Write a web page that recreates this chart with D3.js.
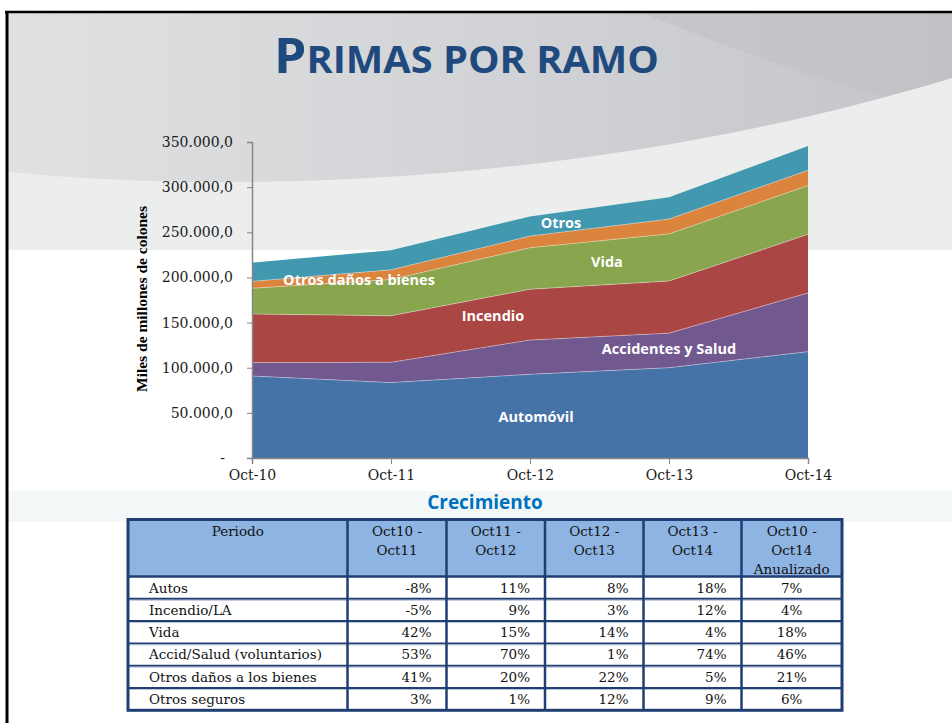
<html>
<head>
<meta charset="utf-8">
<style>
body { margin: 0; background: #ffffff; }
svg { display: block; }
</style>
</head>
<body>
<div id="plot"></div>
<script src="https://d3js.org/d3.v7.min.js"></script>
<script type="text/javascript">
// chart data (miles de millones de colones)
var periods = ["Oct-10", "Oct-11", "Oct-12", "Oct-13", "Oct-14"];
var automovil = [90800, 83500, 92700, 100000, 117800];
var accidentes = [14900, 22500, 37900, 38300, 65000];
var incendio = [53800, 51500, 56300, 57700, 64900];
var vida = [28500, 40200, 46000, 52200, 54000];
var otrosDanos = [7700, 10700, 12900, 16400, 17000];
var otros = [20700, 21700, 21800, 24200, 27000];
var seriesNames = ["Automóvil", "Accidentes y Salud", "Incendio", "Vida", "Otros daños a bienes", "Otros"];
var yTicks = [0, 50000, 100000, 150000, 200000, 250000, 300000, 350000];

// growth table
var tableHeaders = [["Periodo"], ["Oct10 -", "Oct11"], ["Oct11 -", "Oct12"], ["Oct12 -", "Oct13"], ["Oct13 -", "Oct14"], ["Oct10 -", "Oct14", "Anualizado"]];
var rowLabels = ["Autos", "Incendio/LA", "Vida", "Accid/Salud (voluntarios)", "Otros daños a los bienes", "Otros seguros"];
var growth = [
  [-8, 11, 8, 18, 7],
  [-5, 9, 3, 12, 4],
  [42, 15, 14, 4, 18],
  [53, 70, 1, 74, 46],
  [41, 20, 22, 5, 21],
  [3, 1, 12, 9, 6]
];

var W = 952, H = 723;
var svg = d3.select("#plot").append("svg").attr("width", W).attr("height", H);
var defs = svg.append("defs");

// background
var g1 = defs.append("linearGradient").attr("id", "topgrad").attr("x1", 0).attr("x2", 1).attr("y1", 0).attr("y2", 0);
g1.append("stop").attr("offset", 0).attr("stop-color", "#dfe1e2");
g1.append("stop").attr("offset", 0.55).attr("stop-color", "#d1d2d5");
g1.append("stop").attr("offset", 1).attr("stop-color", "#c4c5c9");
svg.append("rect").attr("x", 6).attr("y", 12).attr("width", W).attr("height", 238).attr("fill", "url(#topgrad)");
svg.append("path").attr("d", "M640,12 C760,60 860,95 952,112 L952,12 Z").attr("fill", "#bdbfc3").attr("opacity", 0.5);
svg.append("path").attr("d", "M8,172 C300,200 650,170 952,78 L952,250 L8,250 Z").attr("fill", "#eceeee");
svg.append("rect").attr("x", 8).attr("y", 491).attr("width", W).attr("height", 31).attr("fill", "#f4f7f7");
svg.append("line").attr("x1", 5).attr("x2", W).attr("y1", 12).attr("y2", 12).attr("stroke", "#000").attr("stroke-width", 2.5);
svg.append("line").attr("x1", 7).attr("x2", 7).attr("y1", 11).attr("y2", H).attr("stroke", "#000").attr("stroke-width", 3);

// title
var title = svg.append("text").attr("x", 274).attr("y", 73)
  .attr("fill", "#1f4a7e").attr("font-family", "'Open Sans', sans-serif").attr("font-weight", "bold")
  .attr("textLength", 385).attr("lengthAdjust", "spacingAndGlyphs");
title.append("tspan").attr("font-size", 48).text("P");
title.append("tspan").attr("font-size", 37).text("RIMAS POR RAMO");

// scales
var x = d3.scalePoint().domain(periods).range([252, 808]);
var y = d3.scaleLinear().domain([0, 350000]).range([458, 142]);
var locale = d3.formatLocale({decimal: ",", thousands: ".", grouping: [3], currency: ["", ""]});
var fmt = locale.format(",.1f");

// stacked areas
var rows = periods.map(function(p, i) {
  return {p: p, a: automovil[i], b: accidentes[i], c: incendio[i], d: vida[i], e: otrosDanos[i], f: otros[i]};
});
var keys = ["a", "b", "c", "d", "e", "f"];
var colors = ["#4572a7", "#71588f", "#aa4643", "#89a54e", "#db843d", "#4198af"];
var stacked = d3.stack().keys(keys)(rows);
var area = d3.area()
  .x(function(d) { return x(d.data.p); })
  .y0(function(d) { return y(d[0]); })
  .y1(function(d) { return y(d[1]); });
svg.append("g").selectAll("path").data(stacked).enter().append("path")
  .attr("d", area)
  .attr("fill", function(d, i) { return colors[i]; });
var topLine = d3.line().x(function(d) { return x(d.data.p); }).y(function(d) { return y(d[1]); });
svg.append("g").selectAll("path").data(stacked.slice(0, 5)).enter().append("path")
  .attr("d", topLine).attr("fill", "none").attr("stroke", "#ffffff").attr("stroke-opacity", 0.45).attr("stroke-width", 0.8);

// axes
var yAxis = svg.append("g").attr("transform", "translate(252,0)")
  .call(d3.axisLeft(y).tickValues(yTicks).tickSize(5).tickPadding(14)
    .tickFormat(function(d) { return d === 0 ? "-" : fmt(d); }));
yAxis.select(".domain").attr("stroke", "#868686").attr("stroke-width", 1.5);
yAxis.selectAll(".tick line").attr("stroke", "#868686");
yAxis.selectAll(".tick text").attr("font-family", "'DejaVu Serif', serif").attr("font-size", 14).attr("fill", "#1a1a1a");
yAxis.selectAll(".tick text").filter(function(d) { return d === 0; }).attr("dx", -8);

var xAxis = svg.append("g").attr("transform", "translate(0,458)")
  .call(d3.axisBottom(x).tickSize(6).tickPadding(6));
xAxis.select(".domain").attr("stroke", "#868686").attr("stroke-width", 1.5);
xAxis.selectAll(".tick line").attr("stroke", "#868686");
xAxis.selectAll(".tick text").attr("font-family", "'DejaVu Serif', serif").attr("font-size", 14).attr("fill", "#1a1a1a");

svg.append("text").attr("transform", "translate(147,299) rotate(-90)")
  .attr("text-anchor", "middle").attr("font-family", "'Liberation Serif', serif").attr("font-weight", "bold")
  .attr("font-size", 15.5).attr("fill", "#000").text("Miles de millones de colones");

// area labels
var labelPos = [[536, 422], [669, 354], [493, 321], [607, 267], [359, 285], [561, 228]];
svg.append("g").selectAll("text").data(seriesNames).enter().append("text")
  .attr("x", function(d, i) { return labelPos[i][0]; })
  .attr("y", function(d, i) { return labelPos[i][1]; })
  .attr("text-anchor", "middle").attr("fill", "#ffffff")
  .attr("font-family", "'Open Sans', sans-serif").attr("font-weight", "bold").attr("font-size", 14.5)
  .text(function(d) { return d; });

// growth table
svg.append("text").attr("x", 485).attr("y", 509).attr("text-anchor", "middle")
  .attr("fill", "#0070c0").attr("font-family", "'Open Sans', sans-serif").attr("font-weight", "bold")
  .attr("font-size", 19).text("Crecimiento");

var colX = [128, 347.5, 446.5, 545, 643.5, 741.5, 842];
var tTop = 519.5, headH = 57, rowH = 22.3;
var tBottom = tTop + headH + rowH * rowLabels.length;
var tg = svg.append("g").attr("font-family", "'DejaVu Serif', serif").attr("font-size", 13.5).attr("fill", "#111");
tg.append("rect").attr("x", colX[0]).attr("y", tTop).attr("width", colX[6] - colX[0]).attr("height", headH).attr("fill", "#8db4e2");
tg.append("rect").attr("x", colX[0]).attr("y", tTop + headH).attr("width", colX[6] - colX[0]).attr("height", tBottom - tTop - headH).attr("fill", "#ffffff");

tableHeaders.forEach(function(lines, c) {
  var cx = (colX[c] + colX[c + 1]) / 2;
  lines.forEach(function(t, k) {
    tg.append("text").attr("x", cx).attr("y", tTop + 16 + k * 19).attr("text-anchor", "middle").text(t);
  });
});
rowLabels.forEach(function(lab, r) {
  var by = tTop + headH + r * rowH + 16;
  tg.append("text").attr("x", 149).attr("y", by).text(lab);
  growth[r].forEach(function(v, c) {
    var t = tg.append("text").attr("y", by).text(v + "%");
    if (c < 4) t.attr("x", colX[c + 2] - 15).attr("text-anchor", "end");
    else t.attr("x", (colX[5] + colX[6]) / 2).attr("text-anchor", "middle");
  });
});
var lineColor = "#1f3f73";
for (var r = 1; r < rowLabels.length; r++) {
  var ly = tTop + headH + r * rowH;
  tg.append("line").attr("x1", colX[0]).attr("x2", colX[6]).attr("y1", ly).attr("y2", ly).attr("stroke", lineColor).attr("stroke-width", 2);
  tg.append("line").attr("x1", colX[0]).attr("x2", colX[6]).attr("y1", ly + 1.5).attr("y2", ly + 1.5).attr("stroke", "#b8c4d6").attr("stroke-width", 1);
}
tg.append("line").attr("x1", colX[0]).attr("x2", colX[6]).attr("y1", tTop + headH).attr("y2", tTop + headH).attr("stroke", lineColor).attr("stroke-width", 2.5);
for (var c = 1; c < 6; c++) {
  tg.append("line").attr("x1", colX[c]).attr("x2", colX[c]).attr("y1", tTop).attr("y2", tBottom).attr("stroke", lineColor).attr("stroke-width", 2.5);
}
tg.append("rect").attr("x", colX[0]).attr("y", tTop).attr("width", colX[6] - colX[0]).attr("height", tBottom - tTop)
  .attr("fill", "none").attr("stroke", lineColor).attr("stroke-width", 3);
</script>
</body>
</html>
